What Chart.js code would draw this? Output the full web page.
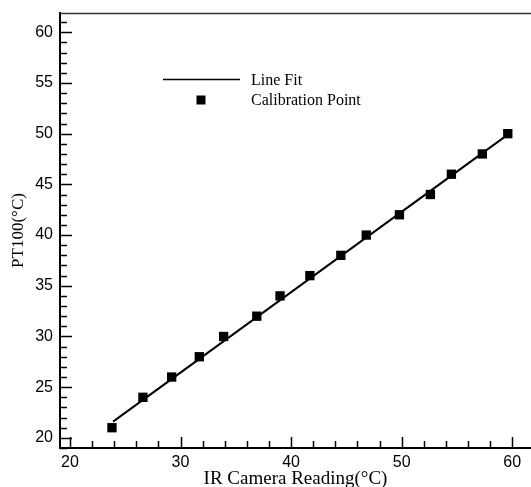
<!DOCTYPE html>
<html>
<head>
<meta charset="utf-8">
<script src="https://cdn.jsdelivr.net/npm/chart.js@4"></script>
<style>
  html, body { margin: 0; padding: 0; background: #fff; }
  canvas { display: block; }
</style>
</head>
<body>
<canvas id="calib" width="531" height="487"></canvas>
<script>
// calibration readings
const irReading = [23.8, 26.6, 29.2, 31.7, 33.9, 36.9, 39.0, 41.7, 44.5, 46.8, 49.8, 52.6, 54.5, 57.3, 59.6];
const pt100 = [21, 24, 26, 28, 30, 32, 34, 36, 38, 40, 42, 44, 46, 48, 50];

// line fit end points
const fitX = [23.9, 59.6];
const fitY = [21.6, 49.9];

const xTickLabels = [20, 30, 40, 50, 60];
const yTickLabels = [20, 25, 30, 35, 40, 45, 50, 55, 60];
const xMinorStep = 2;
const yMinorStep = 1;

const seriesNames = ['Line Fit', 'Calibration Point'];
const xTitle = 'IR Camera Reading(°C)';
const yTitle = 'PT100(°C)';

const SERIF = '"Liberation Serif", "Times New Roman", serif';
const SANS = '"Liberation Sans", Arial, sans-serif';

const axisDecor = {
  id: 'axisDecor',
  afterDraw(chart) {
    const ctx = chart.ctx;
    const { left, right, top, bottom } = chart.chartArea;
    const xs = chart.scales.x, ys = chart.scales.y;
    ctx.save();
    ctx.strokeStyle = '#000';

    // inward ticks, major and minor
    ctx.lineWidth = 1.5;
    for (let v = Math.ceil(ys.min); v <= ys.max; v += yMinorStep) {
      const y = Math.round(ys.getPixelForValue(v)) + 0.5;
      const len = (v % 5 === 0) ? 12 : 7;
      ctx.beginPath(); ctx.moveTo(left, y); ctx.lineTo(left + len, y); ctx.stroke();
    }
    for (let v = Math.ceil(xs.min / xMinorStep) * xMinorStep; v <= xs.max; v += xMinorStep) {
      const x = Math.round(xs.getPixelForValue(v)) + 0.5;
      const len = (v % 10 === 0) ? 11 : 7;
      ctx.beginPath(); ctx.moveTo(x, bottom); ctx.lineTo(x, bottom - len); ctx.stroke();
    }

    // top frame line
    ctx.lineWidth = 1.5;
    ctx.strokeStyle = '#333';
    ctx.beginPath(); ctx.moveTo(left, top + 0.5); ctx.lineTo(right, top + 0.5); ctx.stroke();

    // axis titles
    ctx.fillStyle = '#000';
    ctx.font = '19px ' + SERIF;
    ctx.textAlign = 'center';
    ctx.textBaseline = 'alphabetic';
    ctx.fillText(xTitle, (left + right) / 2, 484);
    ctx.save();
    ctx.translate(23, (top + bottom) / 2);
    ctx.rotate(-Math.PI / 2);
    ctx.font = '17px ' + SERIF;
    ctx.fillText(yTitle, 0, 0);
    ctx.restore();

    // legend
    ctx.strokeStyle = '#000';
    ctx.lineWidth = 1.5;
    ctx.beginPath(); ctx.moveTo(163, 79.5); ctx.lineTo(240, 79.5); ctx.stroke();
    ctx.fillRect(196.5, 95.5, 9, 9);
    ctx.font = '16px ' + SERIF;
    ctx.textAlign = 'left';
    ctx.fillText(seriesNames[0], 251, 85);
    ctx.fillText(seriesNames[1], 251, 105);
    ctx.restore();
  }
};

new Chart(document.getElementById('calib'), {
  type: 'scatter',
  data: {
    datasets: [
      {
        label: seriesNames[0],
        type: 'line',
        data: fitX.map((x, i) => ({ x, y: fitY[i] })),
        borderColor: '#000',
        borderWidth: 2,
        pointRadius: 0,
        fill: false,
        order: 2
      },
      {
        label: seriesNames[1],
        data: irReading.map((x, i) => ({ x, y: pt100[i] })),
        backgroundColor: '#000',
        borderColor: '#000',
        borderWidth: 0,
        pointStyle: 'rect',
        pointRadius: 6.6,
        order: 1
      }
    ]
  },
  options: {
    responsive: false,
    animation: false,
    layout: { autoPadding: false, padding: { top: 13, right: 0, left: 0, bottom: 0 } },
    plugins: { legend: { display: false }, tooltip: { enabled: false } },
    scales: {
      x: {
        type: 'linear',
        min: 19.1,
        max: 61.7,
        afterFit: (s) => { s.height = 39; s.paddingLeft = 0; s.paddingRight = 0; },
        afterBuildTicks: (s) => { s.ticks = xTickLabels.map(v => ({ value: v })); },
        grid: { display: false, drawTicks: false },
        border: { display: true, color: '#000', width: 2 },
        ticks: { color: '#000', padding: 5, maxRotation: 0, font: { family: SANS, size: 16 } }
      },
      y: {
        type: 'linear',
        min: 19.0,
        max: 61.9,
        afterFit: (s) => { s.width = 60; s.paddingTop = 0; s.paddingBottom = 0; },
        afterBuildTicks: (s) => { s.ticks = yTickLabels.map(v => ({ value: v })); },
        grid: { display: false, drawTicks: false },
        border: { display: true, color: '#000', width: 2 },
        ticks: { color: '#000', padding: 7, font: { family: SANS, size: 16 } }
      }
    }
  },
  plugins: [axisDecor]
});
</script>
</body>
</html>
